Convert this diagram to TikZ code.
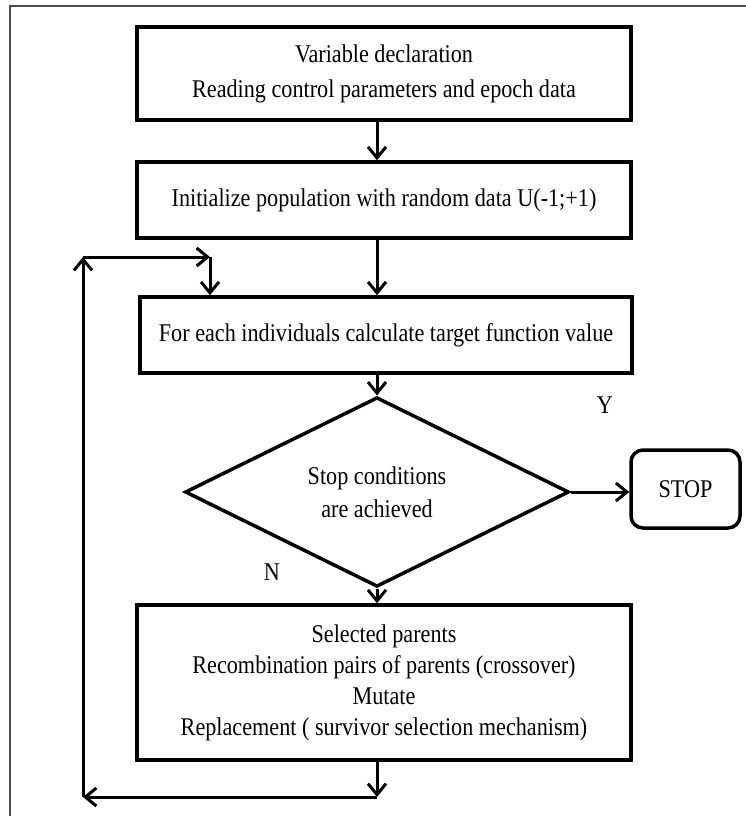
\documentclass[tikz,border=0pt]{standalone}
\usepackage{fontspec}
\setmainfont{Liberation Serif}[FakeStretch=0.87]
\usetikzlibrary{arrows.meta,shapes.geometric}
\begin{document}
\begin{tikzpicture}[x=1pt,y=-1pt,
  proc/.style={draw, line width=3.5pt, minimum width=494pt, align=center, inner sep=0pt},
  flow/.style={line width=3pt, -{Straight Barb[length=11pt,width=18pt]}},
  txt/.style={font=\fontsize{25.5}{30}\selectfont}
]
\useasboundingbox (0,0) rectangle (746,816);
\fill[white] (0,0) rectangle (746,816);
\draw[black!70, line width=1.2pt] (10,816) -- (10,6) -- (746,6);

\node[proc, minimum height=93pt, font=\fontsize{25.5}{35}\selectfont] (b1) at (384,73.5)
  {Variable declaration\\Reading control parameters and epoch data};
\node[proc, minimum height=76pt, font=\fontsize{25.5}{30}\selectfont] (b2) at (384,200)
  {Initialize population with random data U(-1;+1)};
\node[proc, minimum height=76pt, minimum width=492pt, font=\fontsize{25.5}{30}\selectfont] (b3) at (386,335)
  {For each individuals calculate target function value};
\node[draw, diamond, line width=3.5pt, minimum width=384pt, minimum height=162pt, inner sep=0pt,
  align=center, font=\fontsize{25.5}{33}\selectfont] (dia) at (377,492)
  {Stop conditions\\are achieved};
\node[draw, rounded corners=12pt, line width=3.5pt, minimum width=109pt, minimum height=78pt,
  txt] (stop) at (685.5,489) {STOP};
\node[proc, minimum height=155pt, font=\fontsize{25.5}{31}\selectfont] (b4) at (384,682.5)
  {Selected parents\\Recombination pairs of parents (crossover)\\Mutate\\Replacement ( survivor selection mechanism)};

\node[txt] (y) at (605,405) {Y};
\node[txt] (n) at (272,572) {N};

\coordinate (lb) at (377,797);
\coordinate (ll) at (83,797);
\coordinate (lt) at (83,257);
\coordinate (lr) at (210,257);

\draw[flow] (b1.south -| dia.north) -- (b2.north -| dia.north);
\draw[flow] (b2.south -| dia.north) -- (b3.north -| dia.north);
\draw[flow] (b3.south -| dia.north) -- (dia.north);
\draw[flow] (dia.east) -- (dia.east -| stop.west);
\draw[flow] (dia.south) -- (b4.north -| dia.south);
\draw[flow] (b4.south -| lb) -- (lb);
\draw[flow] (lb) -- (ll);
\draw[flow] (ll) -- (lt);
\draw[flow] (lt) -- (lr);
\draw[flow] (lr) -- (lr |- b3.north);
\end{tikzpicture}
\end{document}
